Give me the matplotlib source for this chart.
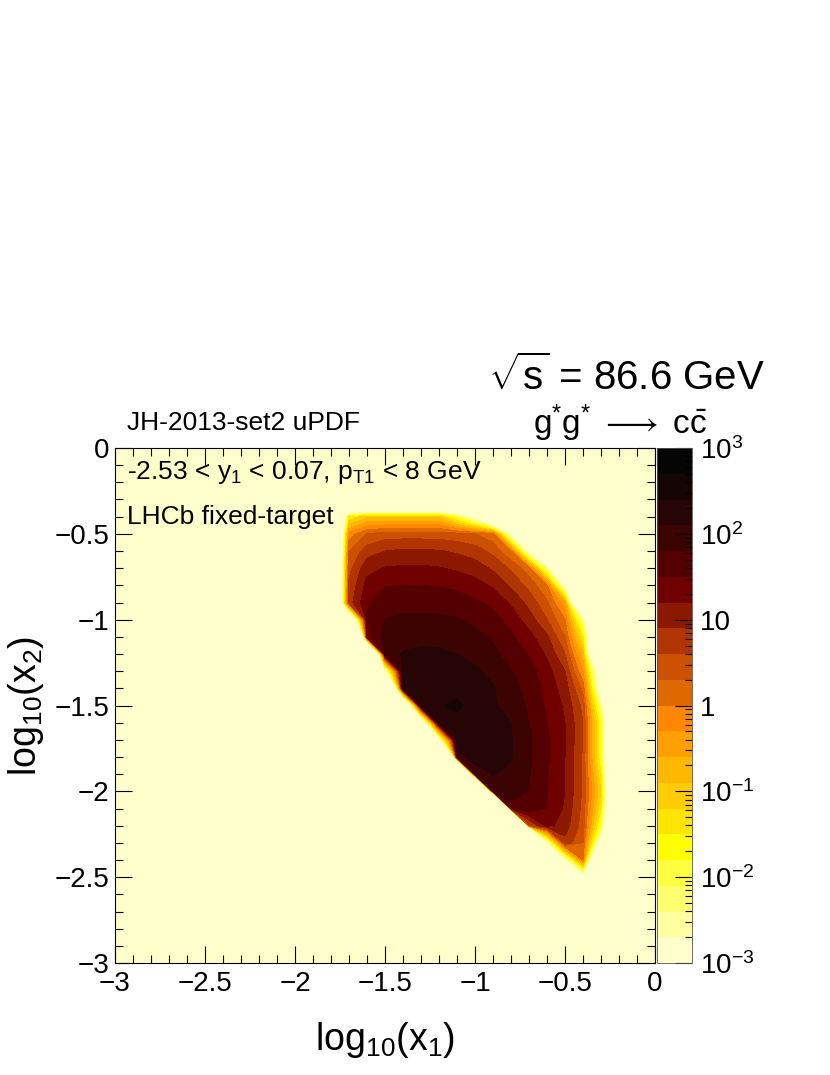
import numpy as np
import matplotlib
matplotlib.use("Agg")
import matplotlib.pyplot as plt
from matplotlib.colors import ListedColormap, BoundaryNorm
from matplotlib.cm import ScalarMappable
from matplotlib.ticker import FixedLocator, FuncFormatter, MultipleLocator

plt.rcParams["font.family"] = ["Liberation Sans", "DejaVu Sans"]
plt.rcParams["mathtext.fontset"] = "custom"
plt.rcParams["mathtext.rm"] = "Liberation Sans"
plt.rcParams["mathtext.it"] = "Liberation Sans"
plt.rcParams["mathtext.sf"] = "Liberation Sans"

# bin centres (log10 x1 columns, log10 x2 rows) and log10 of the cross section per bin
log_x1 = [-1.8, -1.7, -1.6, -1.5, -1.4, -1.3, -1.2, -1.1, -1.0,
          -0.9, -0.8, -0.7, -0.6, -0.5, -0.4, -0.3, -0.2]
log_x2 = [-0.3, -0.4, -0.5, -0.6, -0.7, -0.8, -0.9, -1.0, -1.1, -1.2, -1.3, -1.4,
          -1.5, -1.6, -1.7, -1.8, -1.9, -2.0, -2.1, -2.2, -2.3, -2.4, -2.5, -2.6]
E = None  # empty bin
log_density = [
    [E, E, E, E, E, E, E, E, E, E, E, E, E, E, E, E, E],
    [E, -1.5, -1.0, -1.0, -1.0, -1.0, -1.0, -2.0, -3.3, -6, E, E, E, E, E, E, E],
    [E, -0.2, 0.3, 0.45, 0.45, 0.45, 0.45, 0.4, 0.3, 0.1, -3.2, E, E, E, E, E, E],
    [E, 0.3, 0.75, 0.9, 0.95, 0.95, 0.92, 0.85, 0.75, 0.5, 0.0, -3.3, E, E, E, E, E],
    [E, 0.5, 1.1, 1.22, 1.25, 1.25, 1.22, 1.15, 1.05, 0.85, 0.55, 0.1, -2.5, E, E, E, E],
    [E, 0.65, 1.3, 1.48, 1.5, 1.5, 1.48, 1.42, 1.32, 1.15, 0.85, 0.5, 0.0, -3.3, E, E, E],
    [E, 0.75, 1.45, 1.68, 1.72, 1.72, 1.7, 1.66, 1.55, 1.42, 1.15, 0.8, 0.35, -0.5, E, E, E],
    [E, -5.5, 1.55, 1.8, 1.85, 1.85, 1.85, 1.82, 1.72, 1.6, 1.38, 1.05, 0.6, 0.0, -2.5, E, E],
    [E, -20, 1.4, 1.92, 2.0, 2.03, 2.02, 1.98, 1.9, 1.75, 1.55, 1.3, 0.95, 0.3, -1.5, E, E],
    [E, E, -12, 1.95, 2.12, 2.15, 2.15, 2.1, 2.0, 1.88, 1.65, 1.48, 1.15, 0.6, -0.8, E, E],
    [E, E, E, -3.1, 2.15, 2.22, 2.22, 2.2, 2.15, 2.02, 1.82, 1.62, 1.32, 0.9, -0.3, -4, E],
    [E, E, E, -11, 2.1, 2.3, 2.32, 2.32, 2.25, 2.12, 1.92, 1.7, 1.4, 1.05, 0.2, -3.5, E],
    [E, E, E, E, -7, 2.2, 2.38, 2.45, 2.3, 2.15, 1.97, 1.75, 1.45, 1.15, 0.5, -2.5, E],
    [E, E, E, E, E, -4.8, 2.25, 2.32, 2.28, 2.22, 2.1, 1.8, 1.5, 1.2, 0.6, -1.8, E],
    [E, E, E, E, E, E, -3.25, 2.25, 2.25, 2.22, 2.12, 1.85, 1.55, 1.22, 0.6, -1.8, E],
    [E, E, E, E, E, E, -25, 2.0, 2.2, 2.2, 2.12, 1.85, 1.55, 1.2, 0.55, -1.8, E],
    [E, E, E, E, E, E, E, -22, 1.95, 2.12, 2.02, 1.82, 1.52, 1.2, 0.55, -1.5, E],
    [E, E, E, E, E, E, E, E, -25, 1.85, 1.95, 1.78, 1.5, 1.2, 0.55, -1.2, E],
    [E, E, E, E, E, E, E, E, E, -40, 1.7, 1.7, 1.5, 1.15, 0.5, -1.5, E],
    [E, E, E, E, E, E, E, E, E, E, -40, 0.5, 1.3, 1.05, 0.45, -2.0, E],
    [E, E, E, E, E, E, E, E, E, E, E, -40, -2.9, 0.8, 0.3, -3.5, E],
    [E, E, E, E, E, E, E, E, E, E, E, E, E, -2.9, 0.0, E, E],
    [E, E, E, E, E, E, E, E, E, E, E, E, E, E, -3.5, E, E],
    [E, E, E, E, E, E, E, E, E, E, E, E, E, E, E, E, E],
]

# 20 contour bands, 10^-3 .. 10^3
band_colors = ["#ffffcc", "#ffffa0", "#ffff70", "#ffff40", "#ffff00",
               "#ffe400", "#ffcc00", "#ffb800", "#ffa000", "#ff8800",
               "#e06800", "#cc5000", "#b03500", "#8c1800", "#700000",
               "#550000", "#3c0303", "#250505", "#150505", "#050505"]
levels = np.linspace(-3, 3, 21)
cbar_ticks = [-3, -2, -1, 0, 1, 2, 3]
cbar_labels = [r"$10^{-3}$", r"$10^{-2}$", r"$10^{-1}$", "1", "10", r"$10^{2}$", r"$10^{3}$"]

W, H = 830, 1075
fig = plt.figure(figsize=(W / 100, H / 100), dpi=100)
ax = fig.add_axes([115 / W, 1 - 963 / H, 540 / W, 515 / H])
cax = fig.add_axes([657 / W, 1 - 963 / H, 35 / W, 515 / H])

cmap = ListedColormap(band_colors)
cmap.set_under(band_colors[0])
norm = BoundaryNorm(levels, cmap.N)

Z = np.array(log_density, dtype=float)
Z = np.where(np.isnan(Z), -8.0, Z)
X, Y = np.meshgrid(log_x1, log_x2)
ax.set_facecolor(band_colors[0])
ax.contourf(X, Y, Z, levels=levels, cmap=cmap, norm=norm, extend="min")

ax.set_xlim(-3, 0)
ax.set_ylim(-3, 0)
fmt = FuncFormatter(lambda v, p: f"{v:g}".replace("-", "\u2212"))
for axis in (ax.xaxis, ax.yaxis):
    axis.set_major_locator(MultipleLocator(0.5))
    axis.set_minor_locator(MultipleLocator(0.1))
    axis.set_major_formatter(fmt)
ax.tick_params(which="both", direction="in", top=True, right=True, labelsize=20, width=0.8)
ax.tick_params(which="major", length=12)
ax.tick_params(which="minor", length=6)
ax.tick_params(axis="x", pad=6)
ax.tick_params(axis="y", pad=4)
for s in ax.spines.values():
    s.set_linewidth(0.8)

ax.set_xlabel(r"log$_{10}$(x$_{1}$)", fontsize=27, labelpad=16)
ax.set_ylabel(r"log$_{10}$(x$_{2}$)", fontsize=27, labelpad=6)

cb = fig.colorbar(ScalarMappable(norm=norm, cmap=cmap), cax=cax)
cb.outline.set_linewidth(0.6)
cb.outline.set_edgecolor("#555555")
cax.yaxis.set_major_locator(FixedLocator(cbar_ticks))
cax.set_yticklabels(cbar_labels)
minor = [d + np.log10(m) for d in range(-3, 3) for m in range(2, 10)]
cax.yaxis.set_minor_locator(FixedLocator(minor))
cax.tick_params(which="both", direction="in", right=True, left=False, labelsize=20, width=0.8, pad=6)
cax.tick_params(which="major", length=12)
cax.tick_params(which="minor", length=5)

fig.text(765 / W, 1 - 377 / H, r"$\sqrt{\mathrm{s}}$ = 86.6 GeV", fontsize=29, ha="right", va="center")
fig.text(707 / W, 1 - 423 / H, r"g$^{*}$g$^{*}$ $\longrightarrow$ c$\bar{\mathrm{c}}$", fontsize=24,
         ha="right", va="center")
fig.text(127 / W, 1 - 423 / H, "JH-2013-set2 uPDF", fontsize=19, ha="left", va="center")
fig.text(127 / W, 1 - 472 / H, r"-2.53 < y$_{1}$ < 0.07, p$_{\mathrm{T1}}$ < 8 GeV", fontsize=19,
         ha="left", va="center")
fig.text(127 / W, 1 - 517 / H, "LHCb fixed-target", fontsize=19, ha="left", va="center")

fig.savefig("out.png", dpi=100)
